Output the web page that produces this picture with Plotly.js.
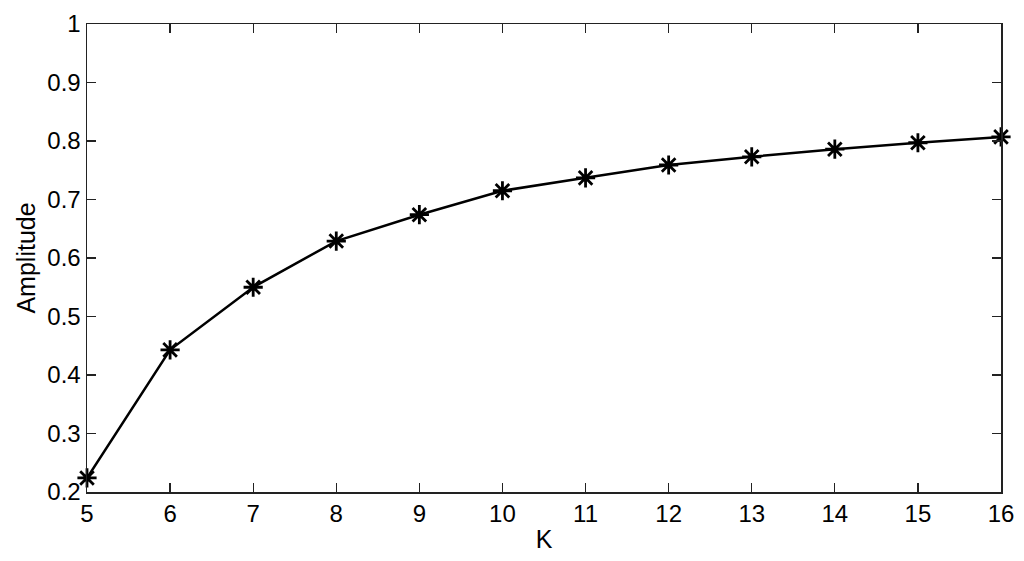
<!DOCTYPE html>
<html>
<head>
<meta charset="utf-8">
<script src="https://cdn.plot.ly/plotly-3.0.1.min.js"></script>
<style>html,body{margin:0;padding:0;background:#fff;}#chart{width:1024px;height:561px;}</style>
</head>
<body>
<div id="chart"></div>
<script>
const K = [5, 6, 7, 8, 9, 10, 11, 12, 13, 14, 15, 16];
const amplitude = [0.224, 0.443, 0.550, 0.629, 0.674, 0.715, 0.737, 0.759, 0.773, 0.786, 0.797, 0.807];
const xTicks = [5, 6, 7, 8, 9, 10, 11, 12, 13, 14, 15, 16];
const yTicks = [0.2, 0.3, 0.4, 0.5, 0.6, 0.7, 0.8, 0.9, 1];
const yTickText = ['0.2', '0.3', '0.4', '0.5', '0.6', '0.7', '0.8', '0.9', '1'];

const font = {family: 'Liberation Sans, Arial, sans-serif', size: 24, color: '#000'};
const titleFont = {family: 'Liberation Sans, Arial, sans-serif', size: 25, color: '#000'};

Plotly.newPlot('chart', [{
  x: K, y: amplitude, type: 'scatter', mode: 'lines+markers',
  line: {color: '#000', width: 2.5},
  marker: {symbol: 'asterisk-open', size: 16, color: '#000', line: {color: '#000', width: 2.8}},
  cliponaxis: false
}], {
  width: 1024, height: 561,
  margin: {l: 87, r: 23, t: 24, b: 69},
  paper_bgcolor: '#fff', plot_bgcolor: '#fff',
  showlegend: false,
  font: font,
  xaxis: {
    range: [5, 16], tickvals: xTicks, ticktext: xTicks.map(String),
    ticks: 'inside', ticklen: 9, tickwidth: 1.2, tickcolor: '#222',
    showline: true, linecolor: '#222', linewidth: 1.5, mirror: 'ticks',
    showgrid: false, zeroline: false, tickfont: font,
    title: {text: 'K', font: titleFont, standoff: 4}
  },
  yaxis: {
    range: [0.2, 1], tickvals: yTicks, ticktext: yTickText,
    ticks: 'inside', ticklen: 9, tickwidth: 1.2, tickcolor: '#222',
    showline: true, linecolor: '#222', linewidth: 1.5, mirror: 'ticks',
    showgrid: false, zeroline: false, tickfont: font,
    title: {text: 'Amplitude', font: titleFont, standoff: 4}
  }
}, {displayModeBar: false, staticPlot: true});
</script>
</body>
</html>
